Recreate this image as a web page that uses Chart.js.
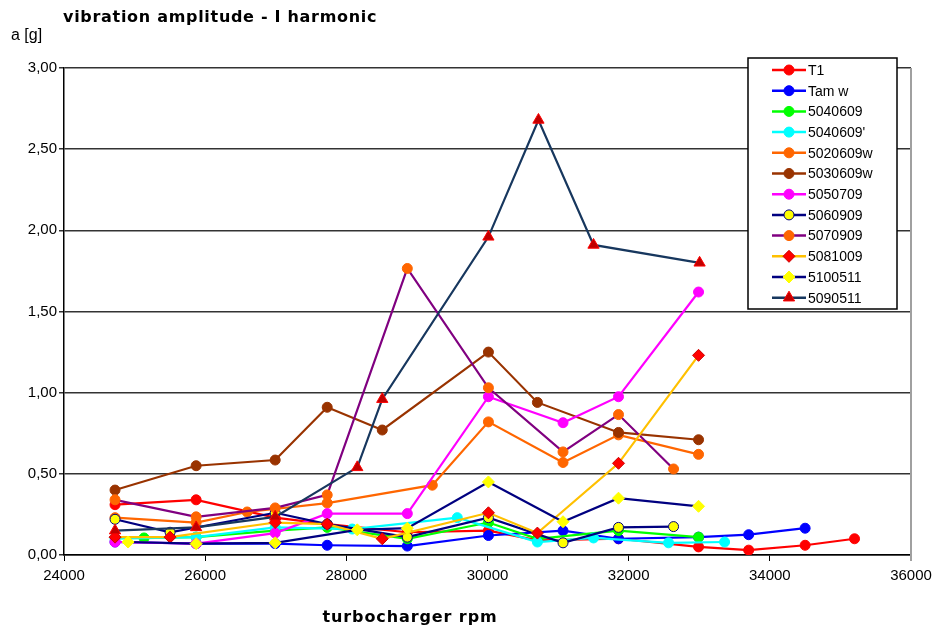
<!DOCTYPE html>
<html>
<head>
<meta charset="utf-8">
<script src="https://cdn.jsdelivr.net/npm/chart.js@4.4.1/dist/chart.umd.min.js"></script>
<style>
  body { margin: 0; background: #fff; }
  #wrap { width: 938px; height: 632px; }
</style>
</head>
<body>
<div id="wrap"><canvas id="myChart" width="938" height="632"></canvas></div>
<script>
// rpm / amplitude [g], one pair of arrays per series
const t1Rpm = [24723, 25872, 26992, 27729, 28864, 30013, 30707, 31856, 32990, 33700, 34500, 35200];
const t1Amp = [0.31, 0.34, 0.23, 0.19, 0.14, 0.15, 0.09, 0.10, 0.05, 0.03, 0.06, 0.10];

const tamwRpm = [24723, 25872, 26992, 27729, 28864, 30013, 31070, 31856, 32990, 33700, 34500];
const tamwAmp = [0.08, 0.07, 0.07, 0.06, 0.055, 0.12, 0.15, 0.10, 0.11, 0.125, 0.165];

const s5040609Rpm = [25134, 25872, 26992, 27729, 28864, 30013, 30707, 31856, 32990];
const s5040609Amp = [0.105, 0.11, 0.15, 0.17, 0.10, 0.20, 0.10, 0.15, 0.11];

const s5040609bRpm = [24723, 25872, 26992, 28084, 29572, 30707, 31502, 32565, 33359];
const s5040609bAmp = [0.10, 0.11, 0.17, 0.16, 0.23, 0.08, 0.105, 0.075, 0.08];

const s5020609wRpm = [24723, 25872, 26595, 27729, 29218, 30013, 31070, 31856, 32990];
const s5020609wAmp = [0.23, 0.20, 0.265, 0.32, 0.43, 0.82, 0.57, 0.74, 0.62];

const s5030609wRpm = [24723, 25872, 26992, 27729, 28509, 30013, 30707, 31856, 32990];
const s5030609wAmp = [0.40, 0.55, 0.585, 0.91, 0.77, 1.25, 0.94, 0.755, 0.71];

const s5050709Rpm = [24723, 25872, 26992, 27729, 28864, 30013, 31070, 31856, 32990];
const s5050709Amp = [0.08, 0.07, 0.135, 0.255, 0.255, 0.975, 0.815, 0.975, 1.62];

const s5060909Rpm = [24723, 25503, 26992, 27729, 28864, 30013, 31070, 31856, 32636];
const s5060909Amp = [0.22, 0.14, 0.26, 0.19, 0.11, 0.23, 0.075, 0.17, 0.175];

const s5070909Rpm = [24723, 25872, 26992, 27729, 28864, 30013, 31070, 31856, 32636];
const s5070909Amp = [0.34, 0.235, 0.29, 0.37, 1.765, 1.03, 0.635, 0.865, 0.53];

const s5081009Rpm = [24723, 25503, 26992, 27729, 28509, 30013, 30707, 31856, 32990];
const s5081009Amp = [0.11, 0.11, 0.20, 0.19, 0.10, 0.26, 0.135, 0.565, 1.23];

const s5100511Rpm = [24908, 25872, 26992, 28155, 28864, 30013, 31070, 31856, 32990];
const s5100511Amp = [0.08, 0.07, 0.075, 0.155, 0.165, 0.45, 0.205, 0.35, 0.30];

const s5090511Rpm = [24723, 25872, 26992, 28155, 28509, 30013, 30722, 31502, 33005];
const s5090511Amp = [0.15, 0.17, 0.235, 0.54, 0.96, 1.96, 2.68, 1.91, 1.80];

const yTicks = [0, 0.5, 1, 1.5, 2, 2.5, 3];
const xTicks = [24000, 26000, 28000, 30000, 32000, 34000, 36000];

function pts(rpm, amp) {
  return rpm.map((r, i) => ({ x: r, y: amp[i] }));
}

// label, rpm, amp, line colour, marker fill, marker border, marker style, radius
const series = [
  ["T1", t1Rpm, t1Amp, "#ff0000", "#ff0000", "#ff0000", "circle", 5],
  ["Tam w", tamwRpm, tamwAmp, "#0000ff", "#0000ff", "#0000ff", "circle", 5],
  ["5040609", s5040609Rpm, s5040609Amp, "#00ff00", "#00ff00", "#00ff00", "circle", 5],
  ["5040609'", s5040609bRpm, s5040609bAmp, "#00ffff", "#00ffff", "#00ffff", "circle", 5],
  ["5020609w", s5020609wRpm, s5020609wAmp, "#ff6600", "#ff6600", "#ff6600", "circle", 5],
  ["5030609w", s5030609wRpm, s5030609wAmp, "#993300", "#993300", "#993300", "circle", 5],
  ["5050709", s5050709Rpm, s5050709Amp, "#ff00ff", "#ff00ff", "#ff00ff", "circle", 5],
  ["5060909", s5060909Rpm, s5060909Amp, "#000080", "#ffff00", "#000080", "circle", 5],
  ["5070909", s5070909Rpm, s5070909Amp, "#800080", "#ff6600", "#ff6600", "circle", 5],
  ["5081009", s5081009Rpm, s5081009Amp, "#ffc000", "#ff0000", "#cc0000", "rectRot", 6],
  ["5100511", s5100511Rpm, s5100511Amp, "#000080", "#ffff00", "#ffff00", "rectRot", 6],
  ["5090511", s5090511Rpm, s5090511Amp, "#17375e", "#c00000", "#ff0000", "triangle", 6.5],
];

const datasets = series.map((s, i) => ({
  label: s[0],
  data: pts(s[1], s[2]),
  borderColor: s[3],
  backgroundColor: s[4],
  pointBackgroundColor: s[4],
  pointBorderColor: s[5],
  pointStyle: s[6],
  pointRadius: s[7],
  pointBorderWidth: 1,
  borderWidth: 2.2,
  tension: 0,
  order: -i,
}));

const decor = {
  id: "decor",
  afterDraw(chart) {
    const ctx = chart.ctx;
    const a = chart.chartArea;
    ctx.save();
    // grey frame on the right
    ctx.strokeStyle = "#a0a0a0";
    ctx.lineWidth = 2;
    ctx.beginPath();
    ctx.moveTo(a.right, a.top);
    ctx.lineTo(a.right, a.bottom + 6);
    ctx.stroke();

    ctx.fillStyle = "#000";
    ctx.textBaseline = "alphabetic";
    ctx.letterSpacing = "0.7px";
    ctx.font = "bold 16px 'DejaVu Sans'";
    ctx.fillText("vibration amplitude - I harmonic", 63, 22);
    ctx.textAlign = "center";
    ctx.letterSpacing = "0.9px";
    ctx.fillText("turbocharger rpm", 410, 622);
    ctx.letterSpacing = "0px";
    ctx.textAlign = "left";
    ctx.font = "16px 'Liberation Sans'";
    ctx.fillText("a [g]", 11, 40);

    // legend box
    const lx = 748, ly = 58, lw = 149, lh = 251;
    ctx.fillStyle = "#fff";
    ctx.fillRect(lx, ly, lw, lh);
    ctx.strokeStyle = "#000";
    ctx.lineWidth = 1.5;
    ctx.strokeRect(lx, ly, lw, lh);
    ctx.textBaseline = "middle";
    ctx.font = "14px 'Liberation Sans'";
    chart.data.datasets.forEach((ds, i) => {
      const y = 70 + i * 20.7;
      ctx.strokeStyle = ds.borderColor;
      ctx.lineWidth = 2.5;
      ctx.beginPath();
      ctx.moveTo(772, y);
      ctx.lineTo(806, y);
      ctx.stroke();
      ctx.fillStyle = ds.pointBackgroundColor;
      ctx.strokeStyle = ds.pointBorderColor;
      ctx.lineWidth = 1;
      Chart.helpers.drawPoint(ctx, {
        pointStyle: ds.pointStyle,
        radius: ds.pointRadius,
        rotation: 0,
        borderWidth: 1,
      }, 789, y);
      ctx.fillStyle = "#000";
      ctx.fillText(ds.label, 808, y + 1);
    });
    ctx.restore();
  },
};

const ctx = document.getElementById("myChart");

new Chart(ctx, {
  type: "line",
  data: { datasets: datasets },
  options: {
    responsive: false,
    animation: false,
    devicePixelRatio: 1,
    layout: { padding: { left: 0, right: 27, top: 68, bottom: 0 } },
    scales: {
      x: {
        type: "linear",
        min: 24000,
        max: 36000,
        afterBuildTicks: (s) => { s.ticks = xTicks.map((v) => ({ value: v })); },
        afterFit: (s) => { s.height = 77; },
        ticks: {
          color: "#000",
          font: { family: "'Liberation Sans'", size: 15 },
          padding: 6,
          maxRotation: 0,
          callback: (v) => String(v),
        },
        grid: {
          drawOnChartArea: false,
          drawTicks: true,
          tickLength: 6,
          color: "#000",
        },
        border: { color: "#000", width: 1.5 },
      },
      y: {
        min: 0,
        max: 3,
        afterBuildTicks: (s) => { s.ticks = yTicks.map((v) => ({ value: v })); },
        afterFit: (s) => { s.width = 64; },
        ticks: {
          color: "#000",
          font: { family: "'Liberation Sans'", size: 15 },
          padding: 2,
          callback: (v) => v.toFixed(2).replace(".", ","),
        },
        grid: {
          color: "#333",
          lineWidth: 1.5,
          tickLength: 5,
        },
        border: { color: "#000", width: 1.5 },
      },
    },
    plugins: {
      legend: { display: false },
      tooltip: { enabled: false },
    },
  },
  plugins: [decor],
});
</script>
</body>
</html>
